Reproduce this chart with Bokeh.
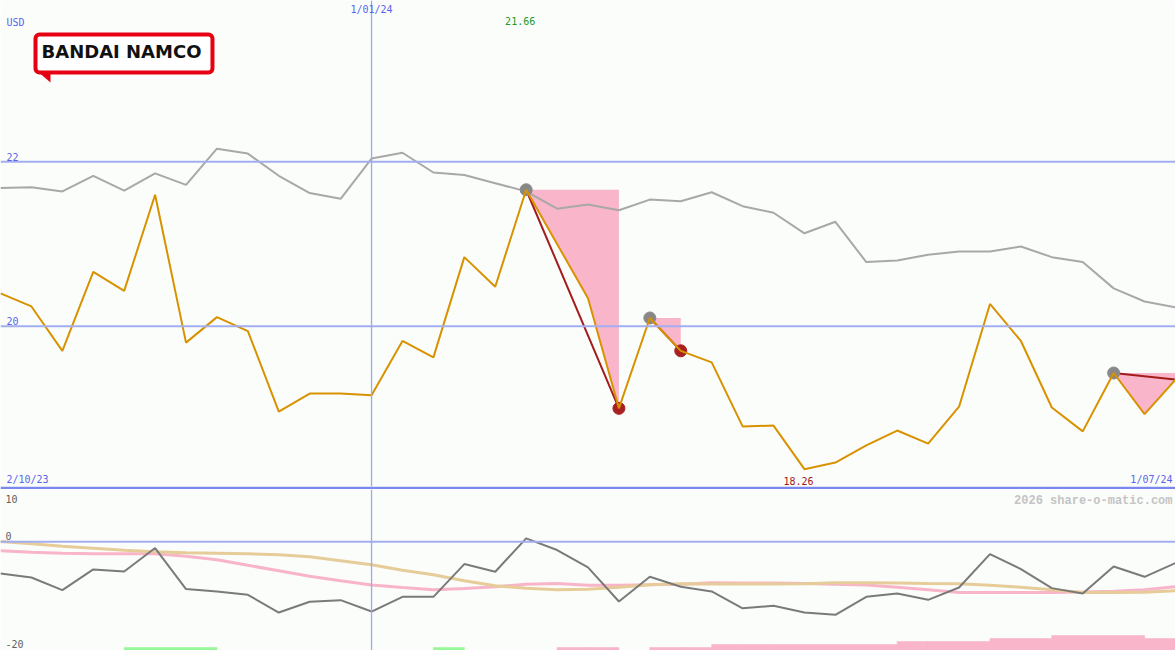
from bokeh.plotting import figure
from bokeh.layouts import column
from bokeh.models import Range1d, Span, Label, PolyAnnotation
from bokeh.embed import file_html
from bokeh.resources import INLINE

# ---------------- data ----------------
price = [20.40, 20.24, 19.70, 20.66, 20.43, 21.60, 19.80, 20.11, 19.94, 18.96,
         19.18, 19.18, 19.16, 19.82, 19.62, 20.84, 20.48, 21.66, 21.00, 20.34,
         19.00, 20.10, 19.70, 19.56, 18.78, 18.79, 18.26, 18.34, 18.55, 18.73,
         18.57, 19.02, 20.27, 19.82, 19.01, 18.72, 19.43, 18.93, 19.35]
avg_line = [21.68, 21.69, 21.64, 21.83, 21.65, 21.86, 21.72, 22.16, 22.10, 21.83,
            21.62, 21.55, 22.04, 22.11, 21.87, 21.84, 21.74, 21.64, 21.43, 21.48,
            21.41, 21.54, 21.52, 21.63, 21.46, 21.38, 21.13, 21.27, 20.78, 20.80,
            20.87, 20.91, 20.91, 20.97, 20.84, 20.78, 20.46, 20.30, 20.23]
momentum = [-5.84, -6.57, -8.90, -5.10, -5.47, -1.16, -8.71, -9.15, -9.76, -13.02,
            -11.05, -10.74, -12.84, -10.13, -10.13, -4.11, -5.52, 0.61, -1.53, -4.73,
            -10.99, -6.45, -8.29, -9.15, -12.25, -11.79, -13.02, -13.44, -10.13, -9.52,
            -10.68, -8.42, -2.27, -5.03, -8.53, -9.52, -4.55, -6.45, -3.92]
signal_tan = [0.06, -0.37, -0.83, -1.20, -1.57, -1.84, -2.03, -2.12, -2.21, -2.39,
              -2.76, -3.50, -4.24, -5.25, -6.08, -7.18, -8.10, -8.56, -8.84, -8.75,
              -8.38, -7.92, -7.73, -7.79, -7.79, -7.79, -7.73, -7.55, -7.55, -7.61,
              -7.68, -7.73, -8.01, -8.38, -8.84, -9.34, -9.34, -9.30, -9.02]
signal_pink = [-1.66, -1.93, -2.12, -2.21, -2.21, -2.21, -2.67, -3.31, -4.33, -5.34,
               -6.35, -7.18, -7.97, -8.42, -8.84, -8.60, -8.29, -7.83, -7.68, -8.01,
               -8.01, -7.92, -7.83, -7.55, -7.61, -7.61, -7.68, -7.83, -7.97, -8.38,
               -8.84, -9.34, -9.34, -9.34, -9.34, -9.24, -9.12, -8.84, -8.29]
# bar levels per interval (between point i and i+1)
green_levels = [0, 0, 0, 0, 1, 1, 1, 0, 0, 0, 0, 0, 0, 0, 1, 0, 0, 0, 0, 0,
                0, 0, 0, 0, 0, 0, 0, 0, 0, 0, 0, 0, 0, 0, 0, 0, 0, 0]
pink_levels = [0, 0, 0, 0, 0, 0, 0, 0, 0, 0, 0, 0, 0, 0, 0, 0, 0, 0, 1, 1,
               0, 1, 1, 2, 2, 2, 2, 2, 2, 3, 3, 3, 4, 4, 5, 5, 5, 4]
dd_peaks = [17, 21, 36]
dd_troughs = [20, 22, 38]
date_start = "2/10/23"
date_mid = "1/01/24"
date_end = "1/07/24"
mid_index = 12
currency = "USD"
price_levels = [22, 20]
ind_labels = ["10", "0", "-20"]
company = "BANDAI NAMCO"
watermark = "2026 share-o-matic.com"

# ---------------- style ----------------
W = 1175
H_TOP = 489
H_BOT = 161
BG = "#FBFDFB"
GRID = "#A3AEF0"
BLUE_TXT = "#5A64F0"
MONO = "DejaVu Sans Mono"
n = len(price)
xs = list(range(n))

top = figure(width=W, height=H_TOP, x_range=Range1d(0, n - 1),
             y_range=Range1d(18.049, 23.963), output_backend="svg",
             toolbar_location=None, min_border=0, min_border_bottom=3,
             border_fill_color="#7A88EE", background_fill_color=BG,
             outline_line_color=None, x_axis_location=None, y_axis_location=None)
top.grid.visible = False

for lv in price_levels:
    top.add_layout(Span(location=lv, dimension="width", line_color=GRID, line_width=2))
    top.add_layout(Label(x=6, y=lv, x_units="screen", y_units="data", text=str(lv),
                         y_offset=1, text_baseline="bottom", text_font=MONO,
                         text_font_size="10px", text_color=BLUE_TXT))
top.add_layout(Span(location=mid_index, dimension="height", line_color="#9AA8F4",
                    line_width=1.3))

for pk, tr in zip(dd_peaks, dd_troughs):
    seg = list(range(pk, tr + 1))
    top.varea(x=seg, y1=[price[i] for i in seg], y2=[price[pk]] * len(seg),
              fill_color="#F9B5CA")

top.line(xs, avg_line, line_color="#A8A8A8", line_width=2)

for pk, tr in zip(dd_peaks, dd_troughs):
    top.line([pk, tr], [price[pk], price[tr]], line_color="#A31C1C", line_width=2)
    top.scatter([pk], [price[pk]], size=12, color="#888888")
    if tr < n - 1:
        top.scatter([tr], [price[tr]], size=12, color="#A82020")

top.line(xs, price, line_color="#D89200", line_width=2)

FH = H_TOP - 3
imax = price.index(max(price))
imin = price.index(min(price))
top.add_layout(Label(x=6, y=FH - 16, x_units="screen", y_units="screen", text=currency,
                     text_baseline="top", text_font=MONO, text_font_size="10px",
                     text_color=BLUE_TXT))
top.add_layout(Label(x=mid_index, y=FH - 3, x_units="data", y_units="screen", text=date_mid,
                     text_align="center", text_baseline="top", text_font=MONO,
                     text_font_size="10px", text_color=BLUE_TXT))
top.add_layout(Label(x=imax, y=FH - 16, x_units="data", y_units="screen",
                     text=f"{max(price):.2f}", x_offset=-6, text_align="center",
                     text_baseline="top", text_font=MONO, text_font_size="10px",
                     text_color="#229922"))
top.add_layout(Label(x=imin, y=2, x_units="data", y_units="screen",
                     text=f"{min(price):.2f}", x_offset=-6, text_align="center",
                     text_baseline="bottom", text_font=MONO, text_font_size="10px",
                     text_color="#A01818"))
top.add_layout(Label(x=6, y=2, x_units="screen", y_units="screen", text=date_start,
                     text_baseline="bottom", text_font=MONO, text_font_size="10px",
                     text_color=BLUE_TXT))
top.add_layout(Label(x=W - 3, y=2, x_units="screen", y_units="screen", text=date_end,
                     text_align="right", text_baseline="bottom", text_font=MONO,
                     text_font_size="10px", text_color=BLUE_TXT))

# logo
top.add_layout(PolyAnnotation(xs=[36, 50, 50], ys=[FH - 70, FH - 70, FH - 82],
                              xs_units="screen", ys_units="screen",
                              fill_color="#E60012", fill_alpha=1, line_color=None))
top.add_layout(Label(x=35, y=FH - 53, x_units="screen", y_units="screen", text=company,
                     text_baseline="middle", text_font="DejaVu Sans",
                     text_font_style="bold", text_font_size="18px", text_color="#111111",
                     background_fill_color="white", border_line_color="#E60012",
                     border_line_width=4, border_radius=4, padding=(6, 11, 6, 11)))

# ---------------- lower panel ----------------
bot = figure(width=W, height=H_BOT, x_range=top.x_range, y_range=Range1d(-20, 9.6),
             output_backend="svg", toolbar_location=None, min_border=0,
             background_fill_color=BG, border_fill_color=BG, outline_line_color=None,
             x_axis_location=None, y_axis_location=None)
bot.grid.visible = False
bot.extra_y_ranges = {"bars": Range1d(0, 53.7)}

gl = [i for i, v in enumerate(green_levels) if v > 0]
bot.quad(left=gl, right=[i + 1 for i in gl], bottom=0, top=[green_levels[i] for i in gl],
         y_range_name="bars", fill_color="#98F898", line_color="#98F898", line_width=0.6)
pl = [i for i, v in enumerate(pink_levels) if v > 0]
bot.quad(left=pl, right=[i + 1 for i in pl], bottom=0, top=[pink_levels[i] for i in pl],
         y_range_name="bars", fill_color="#F9B5CA", line_color="#F9B5CA", line_width=0.6)

bot.add_layout(Span(location=0, dimension="width", line_color=GRID, line_width=2))
bot.add_layout(Span(location=mid_index, dimension="height", line_color="#9AA8F4",
                    line_width=1.3))

bot.line(xs, signal_pink, line_color="#F8B4C8", line_width=3)
bot.line(xs, signal_tan, line_color="#E6CC98", line_width=3)
bot.line(xs, momentum, line_color="#7A7A7A", line_width=2)

bot.add_layout(Label(x=5, y=H_BOT - 5, x_units="screen", y_units="screen", text=ind_labels[0],
                     text_baseline="top", text_font=MONO, text_font_size="10px",
                     text_color="#606060"))
bot.add_layout(Label(x=5, y=0, x_units="screen", y_units="data", text=ind_labels[1],
                     y_offset=2, text_baseline="bottom", text_font=MONO,
                     text_font_size="10px", text_color="#606060"))
bot.add_layout(Label(x=5, y=3, x_units="screen", y_units="screen", text=ind_labels[2],
                     text_baseline="bottom", text_font=MONO, text_font_size="10px",
                     text_color="#606060"))
bot.add_layout(Label(x=W - 3, y=H_BOT - 4, x_units="screen", y_units="screen", text=watermark,
                     text_align="right", text_baseline="top", text_font="Liberation Mono",
                     text_font_style="bold", text_font_size="12px", text_color="#C4C4C4"))

layout = column(top, bot, spacing=0)
open("out.html", "w").write(file_html(layout, INLINE))
